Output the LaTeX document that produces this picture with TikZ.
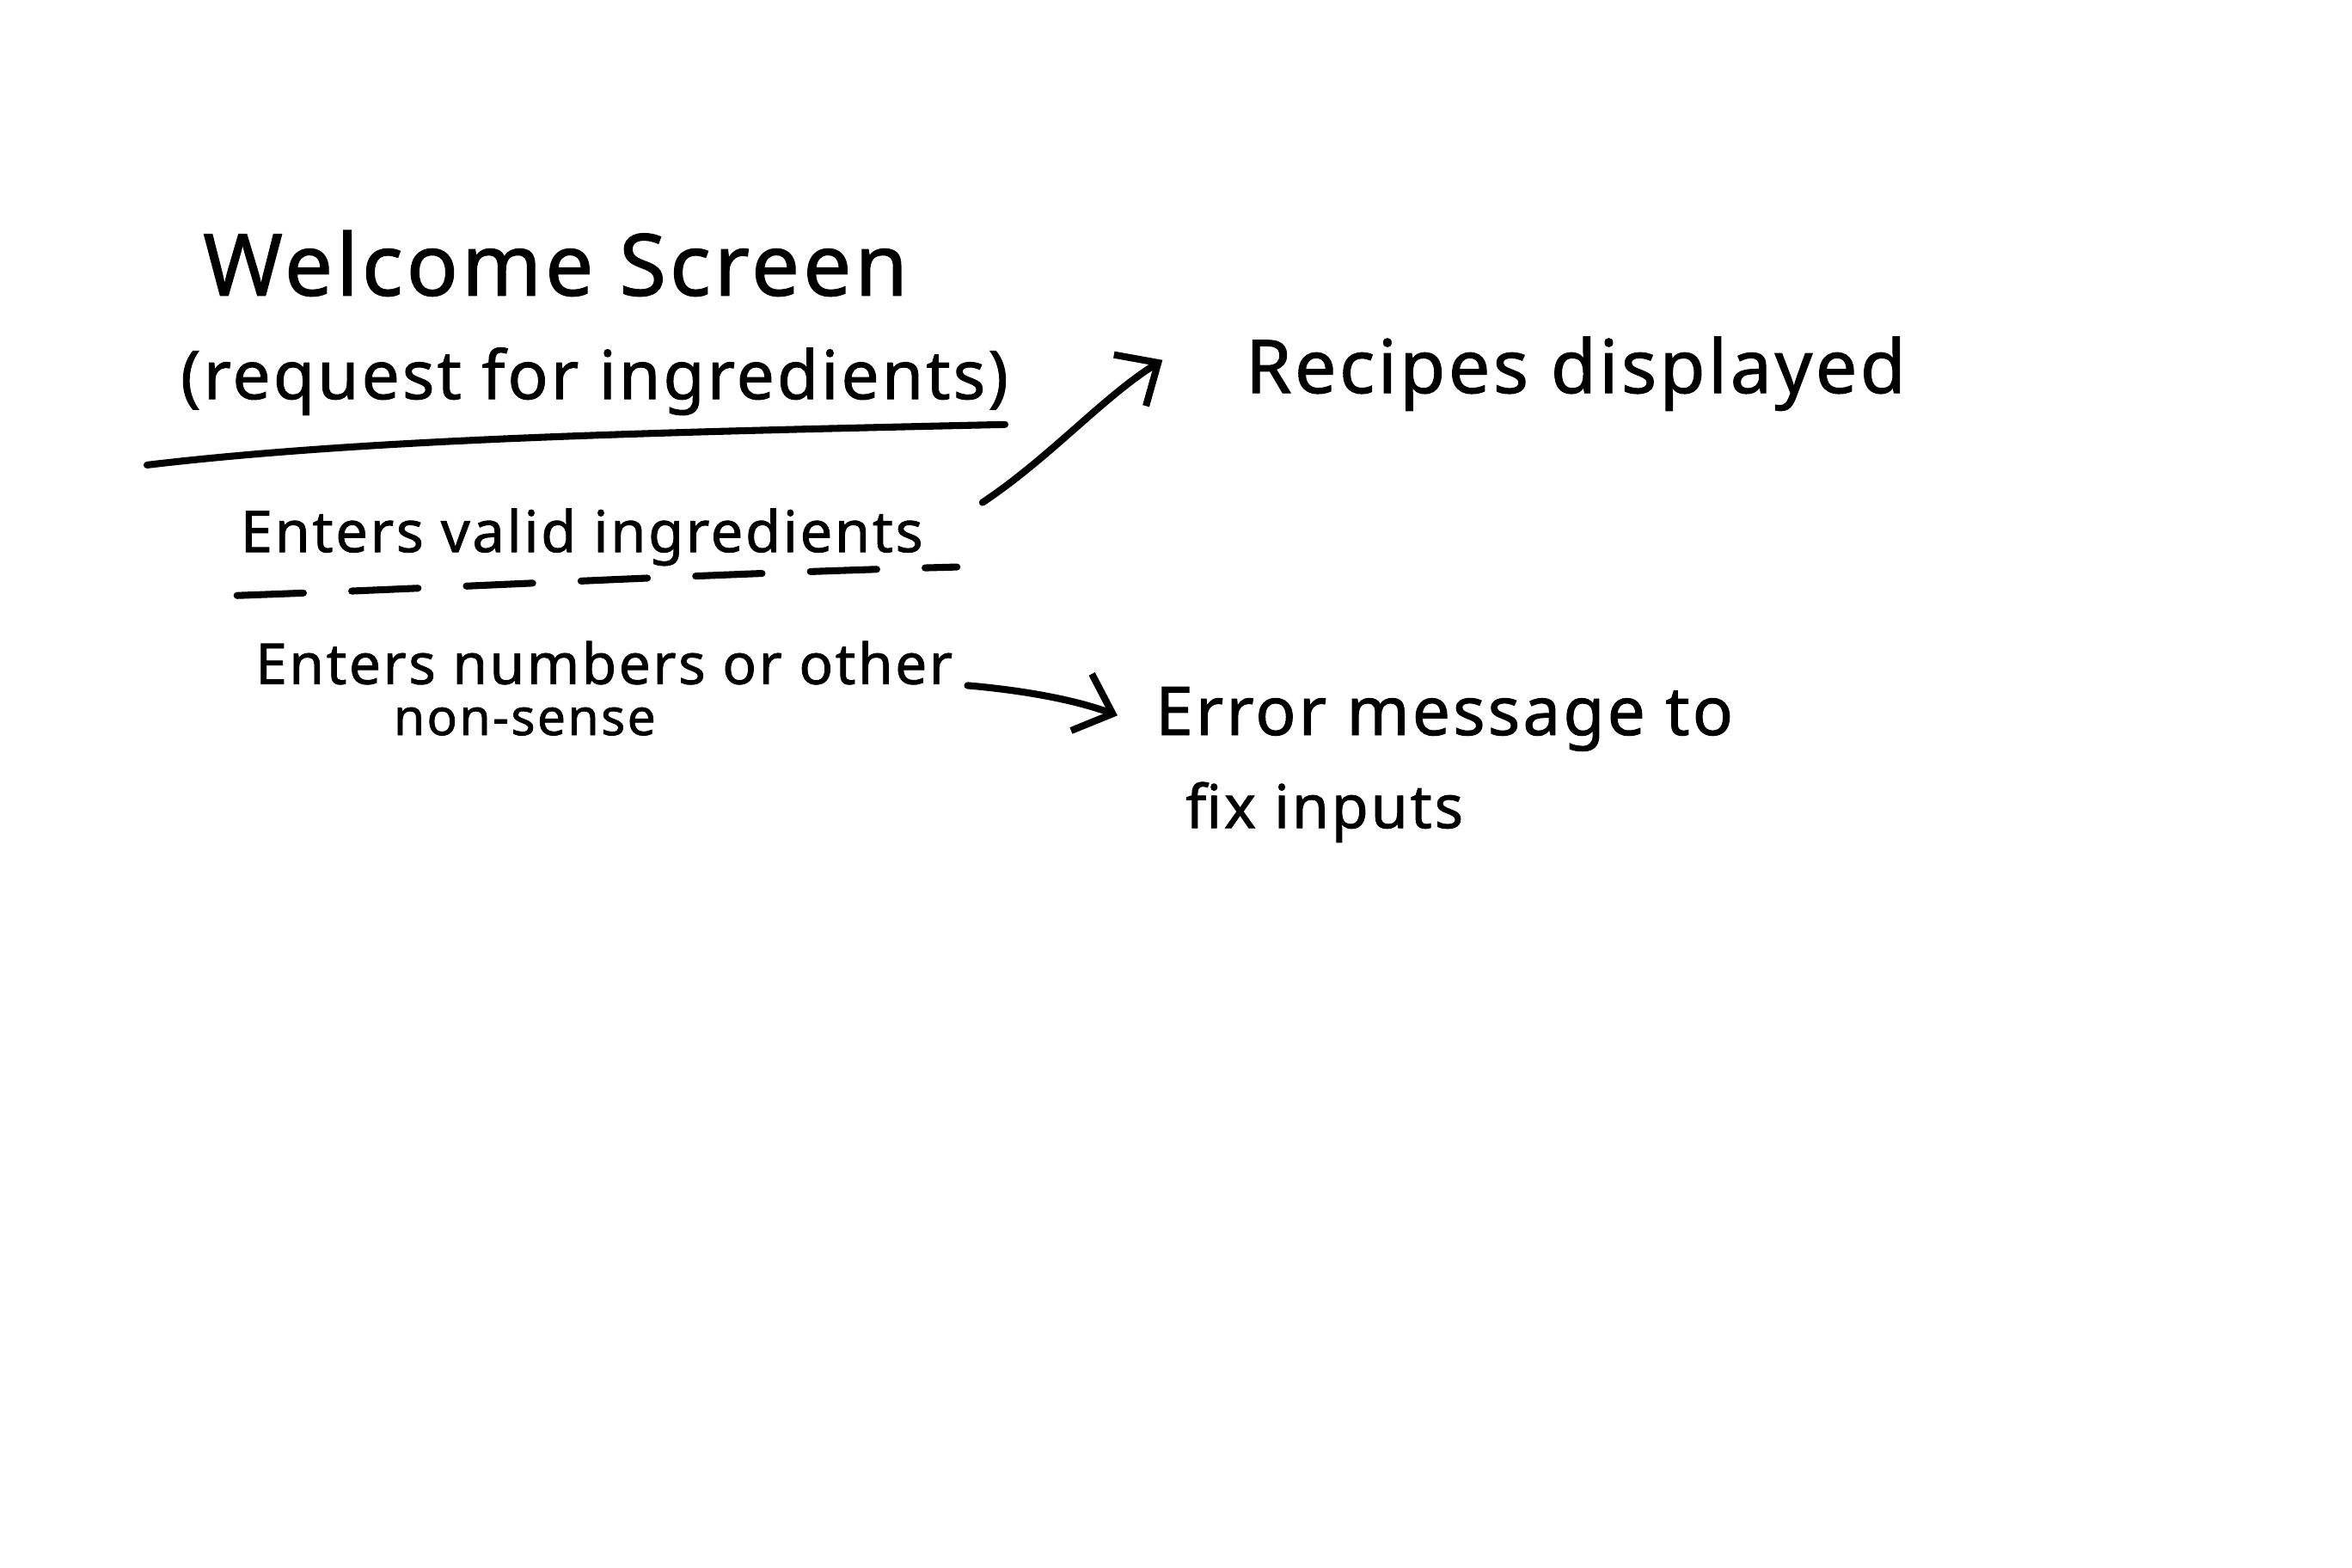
\documentclass[tikz,border=0pt]{standalone}
\usepackage{fontspec}
\setmainfont{Noto Sans}
\newfontfamily\handfont[LetterSpace=4,FakeBold=1.2]{Noto Sans}
\usetikzlibrary{arrows.meta}
\newcommand{\hw}[2]{\resizebox{#1}{!}{\handfont #2}}
\begin{document}
\begin{tikzpicture}[x=0.01745cm,y=-0.01745cm,
  ink/.style={line width=2.3pt,line cap=round,line join=round,black},
  label/.style={inner sep=0pt,anchor=base west,font=\handfont},
  barb/.style={-{Straight Barb[length=11pt,width=20pt,line width=2.3pt]}}]
\useasboundingbox[fill=white] (0,0) rectangle (1568,1045);
% texts
\node[label] (welcome) at (135,197) {\hw{8.2cm}{Welcome Screen}};
\node[label] (request) at (120,266) {\hw{9.63cm}{(request for ingredients)}};
\node[label] (recipes) at (830,262) {\hw{7.68cm}{Recipes displayed}};
\node[label] (valid) at (160,368) {\hw{7.94cm}{Enters valid ingredients}};
\node[label] (numbers) at (170,456) {\hw{8.11cm}{Enters numbers or other}};
\node[label] (nonsense) at (262,490) {\hw{3.05cm}{non-sense}};
\node[label] (error) at (770,490) {\hw{6.72cm}{Error message to}};
\node[label] (fix) at (790,552) {\hw{3.23cm}{fix inputs}};
% coordinates
\coordinate (u1) at (98,310);
\coordinate (u2) at (670,283);
\coordinate (d1) at (158,397);
\coordinate (d2) at (638,378);
\coordinate (a1s) at (655,335);
\coordinate (a1e) at (775,240);
\coordinate (a2s) at (645,457);
\coordinate (a2e) at (745,477);
% lines
\draw[ink] (u1) .. controls (250,292) and (450,288) .. (u2);
\draw[ink,dash pattern=on 22pt off 16pt] (d1) .. controls (300,392) and (480,382) .. (d2);
\draw[ink,barb] (a1s) .. controls (700,305) and (735,265) .. (a1e);
\draw[ink,barb] (a2s) .. controls (680,460) and (715,466) .. (a2e);
\end{tikzpicture}
\end{document}
